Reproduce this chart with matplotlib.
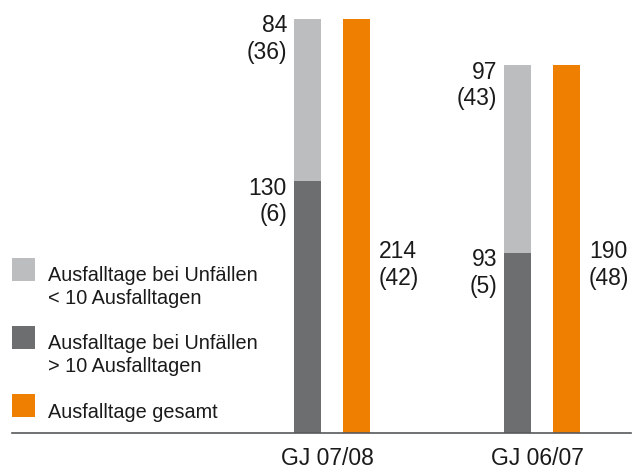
import matplotlib.pyplot as plt
from matplotlib.patches import Rectangle

plt.rcParams['font.family'] = ['Liberation Sans', 'DejaVu Sans']

# Ausfalltage je Geschäftsjahr
jahre = ['GJ 07/08', 'GJ 06/07']
tage_ueber_10 = [130, 93]       # Unfälle > 10 Ausfalltage
unfaelle_ueber_10 = [6, 5]
tage_unter_10 = [84, 97]        # Unfälle < 10 Ausfalltage
unfaelle_unter_10 = [36, 43]
tage_gesamt = [214, 190]
unfaelle_gesamt = [42, 48]

legende = ['Ausfalltage bei Unfällen\n< 10 Ausfalltagen',
           'Ausfalltage bei Unfällen\n> 10 Ausfalltagen',
           'Ausfalltage gesamt']

hellgrau = '#bcbdbf'
dunkelgrau = '#6d6e70'
orange = '#ef7f00'
textfarbe = '#1a1a1a'

W, H = 633, 472
fig = plt.figure(figsize=(W / 100, H / 100), dpi=100)
ax = fig.add_axes([12 / W, (H - 433) / H, 619 / W, 433 / H])

x = [0, 1]
off = 0.117
breite = 0.1286
xs = [i - off for i in x]
xo = [i + off for i in x]

ax.bar(xs, tage_ueber_10, breite, color=dunkelgrau)
ax.bar(xs, tage_unter_10, breite, bottom=tage_ueber_10, color=hellgrau)
ax.bar(xo, tage_gesamt, breite, color=orange)

ax.set_xlim(-320 / 210, (631 - 332) / 210)
ax.set_ylim(0, 433 / 1.935)

for s in ['top', 'left', 'right']:
    ax.spines[s].set_visible(False)
ax.spines['bottom'].set_color('#58595b')
ax.spines['bottom'].set_linewidth(1.2)
ax.set_yticks([])
ax.set_xticks([i - 0.02 for i in x])
ax.set_xticklabels(jahre, fontsize=16.5, color=textfarbe)
ax.tick_params(axis='x', length=0, pad=10)

fs = 16.5
ls = 1.21
for i in x:
    links = xs[i] - breite / 2
    # untere Beschriftung (> 10 Tage)
    ax.annotate(f'{tage_ueber_10[i]}\n({unfaelle_ueber_10[i]})',
                xy=(links, tage_ueber_10[i]), xytext=(-7, -40),
                textcoords='offset pixels', ha='right', va='baseline',
                fontsize=fs, color=textfarbe, linespacing=ls)
    # obere Beschriftung (< 10 Tage)
    oben = tage_ueber_10[i] + tage_unter_10[i]
    ax.annotate(f'{tage_unter_10[i]}\n({unfaelle_unter_10[i]})',
                xy=(links, oben), xytext=(-7, -40),
                textcoords='offset pixels', ha='right', va='baseline',
                fontsize=fs, color=textfarbe, linespacing=ls)
    # Gesamt neben dem orangen Balken
    rechts = xo[i] + breite / 2
    ax.annotate(f'{tage_gesamt[i]}\n({unfaelle_gesamt[i]})',
                xy=(rechts, 76.5), xytext=(9, 0),
                textcoords='offset pixels', ha='left', va='baseline',
                fontsize=fs, color=textfarbe, linespacing=ls)

# Legende links
for k, (farbe, txt) in enumerate(zip([hellgrau, dunkelgrau, orange], legende)):
    top = 258 + k * 68
    fig.add_artist(Rectangle((12 / W, 1 - (top + 23) / H), 23 / W, 23 / H,
                             transform=fig.transFigure, color=farbe, lw=0))
    zeilen = txt.count('\n')
    fig.text(48 / W, 1 - (top + 24 + 22 * zeilen) / H, txt, fontsize=14.3,
             color=textfarbe, ha='left', va='baseline', linespacing=1.26)

fig.savefig('out.png', dpi=100)
